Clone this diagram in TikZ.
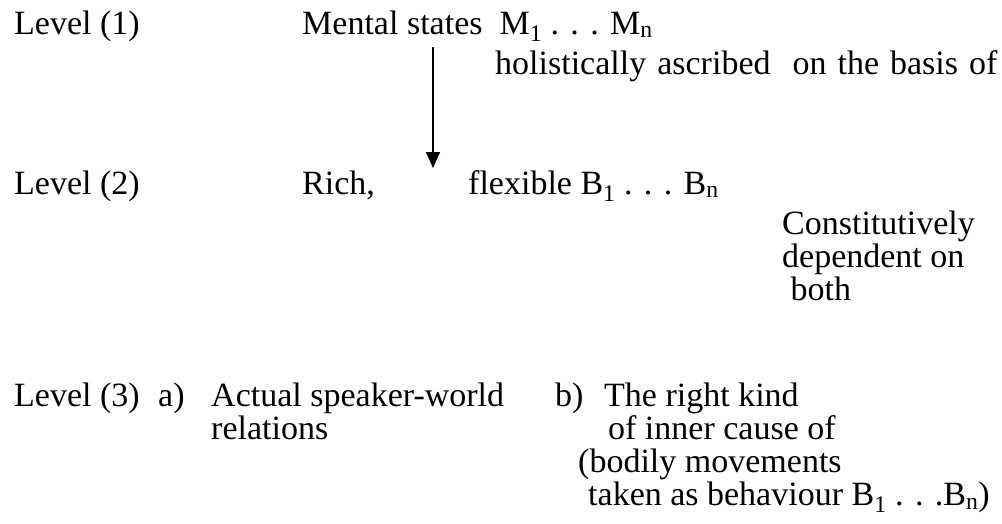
\documentclass[tikz,border=0pt]{standalone}
\usepackage{fontspec}
\setmainfont{Liberation Serif}[Ligatures=TeX]
\usetikzlibrary{positioning,arrows.meta}
\definecolor{ink}{HTML}{000000}

\begin{document}
\begin{tikzpicture}[x=1pt,y=-1pt,
  txt/.style={inner sep=0pt,anchor=base west,align=left,text=ink,font=\rmfamily\fontsize{34}{33}\selectfont},
  lvl/.style={txt}]
\useasboundingbox (0,0) rectangle (1002,523);
\node[lvl] (lvl1) at (14,34) {Level (1)};
\node[lvl] (lvl2) at (14,194) {Level (2)};
\node[lvl] (lvl3) at (14,406) {Level (3)};
\node[txt] (mental) at (302,34) {Mental states\ \ M\textsubscript{1} . . . M\textsubscript{n}};
\node[txt] (holist) at (495,74) {\spaceskip=11pt holistically ascribed\ \ on the basis of};
\node[txt] (rich) at (302,194) {Rich,};
\node[txt] (flex) at (468,194) {flexible B\textsubscript{1} . . . B\textsubscript{n}};
\node[txt,anchor=north west] (const) at (782,211) {Constitutively\\dependent on\\\ both};
\node[txt] (parta) at (158,406) {a)};
\node[txt,anchor=north west] (actual) at (211,383) {Actual speaker-world\\relations};
\node[txt] (partb) at (555,406) {b)};
\node[txt,anchor=north west] (inner) at (578,383) {\hspace{26pt}The right kind\\\hspace{30pt}of inner cause of\\(bodily movements\\\hspace{10pt}taken as behaviour B\textsubscript{1} . . .B\textsubscript{n})};
\coordinate (arrtop) at (433,47);
\coordinate (arrtip) at (433,168);
\draw[line width=1.4pt,-{Triangle[width=14pt,length=16pt]}] (arrtop) -- (arrtip);
\end{tikzpicture}
\end{document}
